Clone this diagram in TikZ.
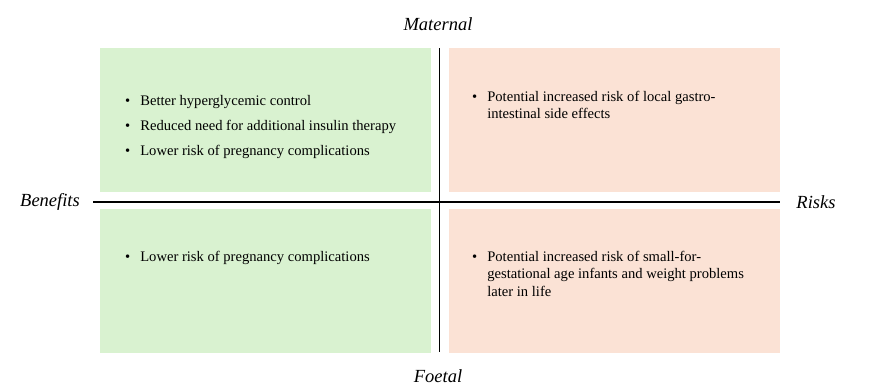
\documentclass[tikz,border=0pt]{standalone}
\usepackage{fontspec}
\setmainfont{Liberation Serif}
\usetikzlibrary{positioning}
\definecolor{benefitgreen}{HTML}{D9F2D0}
\definecolor{riskred}{HTML}{FBE2D5}
\tikzset{
  quad/.style={minimum width=331pt, minimum height=144pt, inner sep=0pt, draw=none},
  bullets/.style={anchor=base west, inner sep=0pt, font=\fontsize{14.6}{17.5}\selectfont},
  axislabel/.style={font=\fontsize{18.5}{21}\selectfont\itshape},
  axis/.style={line width=1.3pt}
}
\newcommand{\bl}{\textbullet}
\begin{document}
\begin{tikzpicture}[x=1pt, y=-1pt]
                \useasboundingbox (0,0) rectangle (870,389);
                \node[quad, fill=benefitgreen](MB) at (265.5,120) {};
                \node[quad, fill=riskred](MR) at (614.5,120) {};
                \node[quad, fill=benefitgreen](FB) at (265.5,280.5) {};
                \node[quad, fill=riskred](FR) at (614.5,280.5) {};
                \node[bullets](MBT) at (125,105) {\begin{tabular}[t]{@{}l@{\hspace{10pt}}l@{}}
                  \bl & Better hyperglycemic control\\[7.5pt]
                  \bl & Reduced need for additional insulin therapy\\[7.5pt]
                  \bl & Lower risk of pregnancy complications
                \end{tabular}};
                \node[bullets](MRT) at (472,101) {\begin{tabular}[t]{@{}l@{\hspace{10pt}}l@{}}
                  \bl & Potential increased risk of local gastro-\\
                      & intestinal side effects
                \end{tabular}};
                \node[bullets](FBT) at (125,261) {\begin{tabular}[t]{@{}l@{\hspace{10pt}}l@{}}
                  \bl & Lower risk of pregnancy complications
                \end{tabular}};
                \node[bullets](FRT) at (472,261) {\begin{tabular}[t]{@{}l@{\hspace{10pt}}l@{}}
                  \bl & Potential increased risk of small-for-\\
                      & gestational age infants and weight problems\\
                      & later in life
                \end{tabular}};
                \node[axislabel](MAT) at (438,24) {Maternal};
                \node[axislabel](FOE) at (438,376) {Foetal};
                \node[axislabel](BEN) at (50,202) {Benefits};
                \node[axislabel](RIS) at (816,202) {Risks};
                \coordinate (HL) at (93,202);
                \coordinate (HR) at (780,202);
                \coordinate (VT) at (439.5,48);
                \coordinate (VB) at (439.5,352);
                \draw[axis] (HL) -- (HR);
                \draw[axis] (VT) -- (VB);
            \end{tikzpicture}
\end{document}
